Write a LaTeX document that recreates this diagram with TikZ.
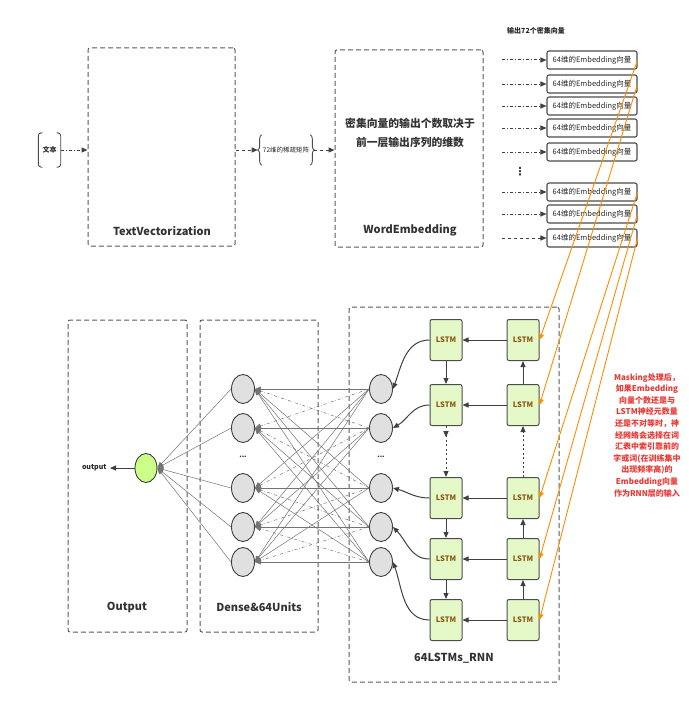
\documentclass[tikz,border=0pt]{standalone}
\usepackage{fontspec}
\setmainfont{Noto Sans CJK SC}
\newfontfamily\symfont{DejaVu Sans}
\usepackage{xcolor}
\usepackage{tikz}
\usetikzlibrary{arrows.meta}
\usetikzlibrary{shapes,arrows}
\usetikzlibrary{decorations.pathreplacing,decorations.markings}
\definecolor{lstmfill}{HTML}{E4F8C8}
\definecolor{lstmtext}{HTML}{8A5A14}
\definecolor{outfill}{HTML}{CCFF88}
\definecolor{feedorange}{HTML}{FF8C00}
\definecolor{notered}{HTML}{E53935}
\tikzstyle{groupbox} = [draw=black!65, dash pattern=on 5pt off 3pt, line width=1pt, rounded corners=2pt]
\tikzstyle{grouplabel} = [font=\fontsize{11}{12}\selectfont\bfseries, text=black!80]
\tikzstyle{vecbox} = [draw=black!70, line width=1.1pt, rounded corners=2pt, minimum width=90pt, minimum height=18pt, inner sep=0pt, font=\fontsize{7.5}{8}\selectfont, text=black!85]
\tikzstyle{lstm} = [draw=black!70, fill=lstmfill, line width=1pt, rounded corners=2pt, minimum width=32pt, minimum height=41pt, inner sep=0pt, font=\fontsize{7.5}{8}\selectfont\bfseries, text=lstmtext]
\tikzstyle{unit} = [ellipse, draw=black!75, fill=black!12, line width=0.9pt, minimum width=23pt, minimum height=29pt, inner sep=0pt]
\tikzstyle{arrow} = [line width=1pt, black!75, -{Triangle[length=6pt,width=5pt]}]
\tikzstyle{link} = [black!55, line width=0.5pt, -{Triangle[length=6pt,width=5pt]}]
\tikzstyle{feed} = [feedorange, line width=0.9pt, -{Triangle[length=6pt,width=5pt]}]
\tikzstyle{small} = [font=\fontsize{7}{8}\selectfont\bfseries, text=black!85]

\begin{document}
\begin{tikzpicture}[x=1pt, y=-1pt]
    \useasboundingbox (0,0) rectangle (688,701);

    % 上半部分：文本 -> 向量化 -> 词嵌入
    \node[groupbox, minimum width=147pt, minimum height=198pt] (tv) at (161.5,147) {};
    \node[grouplabel] (tvlabel) at (162,231) {TextVectorization};
    \node[groupbox, minimum width=148pt, minimum height=197pt] (we) at (409,148.5) {};
    \node[grouplabel] (welabel) at (410,230) {WordEmbedding};
    \node[font=\fontsize{10.8}{19}\selectfont\bfseries, text=black!80, align=center] (wenote) at (410,133) {密集向量的输出个数取决于\\前一层输出序列的维数};

    \node[small, minimum height=34pt, inner xsep=4pt] (txt) at (49.5,150) {文本};
    \draw[black!70, line width=0.9pt, rounded corners=3pt] ([xshift=4pt]txt.north west) -- (txt.north west) -- (txt.south west) -- ([xshift=4pt]txt.south west);
    \draw[black!70, line width=0.9pt, rounded corners=3pt] ([xshift=-4pt]txt.north east) -- (txt.north east) -- (txt.south east) -- ([xshift=-4pt]txt.south east);
    \draw[arrow, dash dot] (txt.east) -- (txt.east -| tv.west);

    \node[font=\fontsize{6.5}{7}\selectfont, text=black!85, minimum height=30pt, inner xsep=1pt] (sparse) at (286,150) {72维的稀疏矩阵};
    \draw[black!70, line width=0.9pt, decorate, decoration={brace, amplitude=4pt}] (sparse.south west) -- (sparse.north west);
    \draw[black!70, line width=0.9pt, decorate, decoration={brace, amplitude=4pt}] (sparse.north east) -- (sparse.south east);
    \draw[arrow, dashed, shorten >=4pt] (sparse.west -| tv.east) -- (sparse.west);
    \draw[arrow, dashed, shorten <=4pt] (sparse.east) -- (sparse.east -| we.west);

    % 72个Embedding向量
    \node[small] (veclabel) at (536,31) {输出72个密集向量};
    \foreach \i/\y in {1/60,2/84,3/106,4/128,5/152,6/192,7/214}{
        \node[vecbox] (v\i) at (592,\y) {64维的Embedding向量};
        \draw[arrow, dash dot] ([xshift=-44pt]v\i.west) -- (v\i.west);
    }
    \node[vecbox] (v8) at (592,238) {64维的Embedding向量};
    \draw[arrow, dashed] ([xshift=-44pt]v8.west) -- (v8.west);
    \node[font=\symfont\fontsize{11}{12}\selectfont\bfseries, text=black!80] (vdots) at (520,172) {⋮};

    % 下半部分的三个层
    \node[groupbox, minimum width=119pt, minimum height=312pt] (outbox) at (127.5,476) {};
    \node[grouplabel] (outlabel) at (127,607) {Output};
    \node[groupbox, minimum width=118pt, minimum height=312pt] (densebox) at (259,476) {};
    \node[grouplabel] (denselabel) at (259,607) {Dense\&64Units};
    \node[groupbox, minimum width=210pt, minimum height=375pt] (rnnbox) at (454,494.5) {};
    \node[grouplabel] (rnnlabel) at (454,658) {64LSTMs\_RNN};

    % LSTM单元
    \foreach \i/\y in {1/340,2/405,3/498,4/559,5/620}{
        \node[lstm] (l\i) at (446,\y) {LSTM};
        \node[lstm] (r\i) at (523,\y) {LSTM};
        \draw[arrow] (r\i.west) -- (l\i.east);
    }
    \draw[arrow] (l1.south) -- (l2.north);
    \draw[arrow, dash pattern=on 2pt off 2.5pt,
        postaction={decorate, decoration={markings, mark=at position 0.22 with {\arrow{Triangle[length=6pt,width=5pt]}}}}] (l2.south) -- (l3.north);
    \draw[arrow] (l3.south) -- (l4.north);
    \draw[arrow] (l4.south) -- (l5.north);
    \draw[arrow] (r5.north) -- (r4.south);
    \draw[arrow] (r4.north) -- (r3.south);
    \draw[arrow, dash pattern=on 2pt off 2.5pt] (r3.north) -- (r2.south);
    \draw[arrow] (r2.north) -- (r1.south);

    % 神经元
    \foreach \i/\y in {1/389,2/428,3/488,4/527,5/562}{
        \node[unit] (h\i) at (381,\y) {};
        \node[unit] (d\i) at (243,\y) {};
    }
    \node[small] (hdots) at (381,457) {...};
    \node[small] (ddots) at (243,457) {...};
    \node[ellipse, draw=black!75, fill=outfill, line width=0.9pt, minimum width=22pt, minimum height=29pt, inner sep=0pt] (out) at (146,468) {};
    \node[small, anchor=east] (outtext) at (110,468) {output};
    \draw[arrow] (out.west) -- (outtext.east);

    \draw[arrow] (l1.west) to[out=180, in=70] (h1.east);
    \draw[arrow] (l2.west) to[out=180, in=30] (h2.east);
    \draw[arrow] (l3.west) to[out=180, in=-15] (h3.east);
    \draw[arrow] (l4.west) to[out=180, in=-45] (h4.east);
    \draw[arrow] (l5.west) to[out=180, in=-70] (h5.east);

    \foreach \j in {1,...,5}{
        \foreach \i in {1,...,5}{
            \pgfmathtruncatemacro{\gap}{abs(\i-\j)}
            \ifnum\gap=1
                \draw[link, dash dot] (h\j.west) -- (d\i.east);
            \else
                \draw[link] (h\j.west) -- (d\i.east);
            \fi
        }
        \draw[link] (d\j.west) -- (out.east);
    }

    % Embedding向量输入RNN层
    \foreach \v/\r in {1/1,2/2,6/3,7/4,8/5}{
        \draw[feed] (v\v.east) -- (r\r.east);
    }
    \node[font=\fontsize{8}{11.6}\selectfont\bfseries, text=notered, align=center] (note) at (647,435)
        {Masking处理后，\\如果Embedding\\向量个数还是与\\LSTM神经元数量\\还是不对等时，神\\经网络会选择在词\\汇表中索引靠前的\\字或词(在训练集中\\出现频率高)的\\Embedding向量\\作为RNN层的输入};
\end{tikzpicture}
\end{document}
